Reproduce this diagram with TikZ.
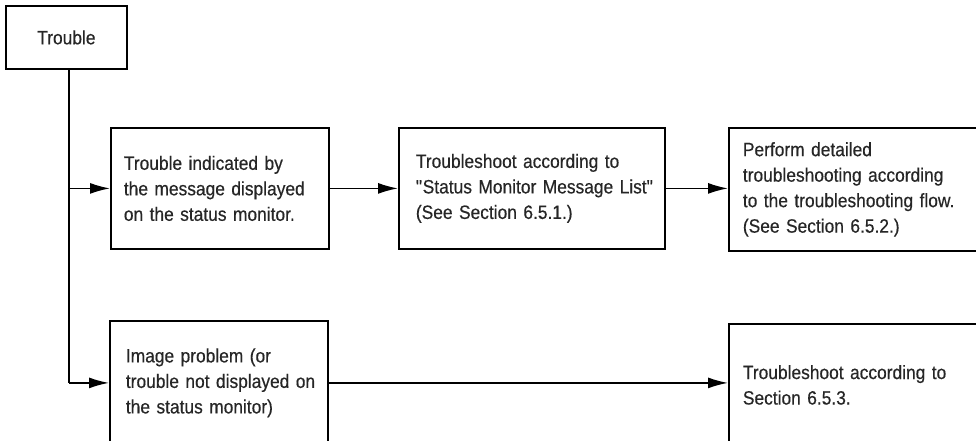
\documentclass[tikz,border=0pt]{standalone}
\usepackage{fontspec}
\setmainfont{Liberation Sans}
\newfontfamily\narrowfont[FakeStretch=0.9,FakeBold=0.4]{Liberation Sans}
\usetikzlibrary{arrows.meta}
\begin{document}
\begin{tikzpicture}[x=1pt,y=-1pt,
  box/.style={draw=black,line width=1.8pt,anchor=north west,align=left,
    font=\narrowfont\fontsize{19.3}{25.5}\selectfont,inner ysep=0pt,text=black!85},
  conn/.style={line width=1.6pt,-{Latex[length=20pt,width=11pt]}},
  trunk/.style={line width=1.6pt}]
\clip (0,0) rectangle (976,440);
\fill[white] (0,0) rectangle (976,440);
\node[box,align=center,minimum width=121pt,minimum height=63pt,inner xsep=0pt] (trouble) at (5,5) {Trouble};
\node[box,inner xsep=13pt,text width=192pt,minimum height=121pt] (b1) at (110,127)
  {\mbox{Trouble indicated by}\\\mbox{the message displayed}\\\mbox{on the status monitor.}};
\node[box,inner xsep=17pt,text width=232pt,minimum height=121pt] (b2) at (398,127)
  {\mbox{Troubleshoot according to}\\\mbox{\textquotedbl Status Monitor Message List\textquotedbl}\\\mbox{(See Section 6.5.1.)}};
\node[box,inner xsep=14pt,text width=242pt,minimum height=123pt] (b3) at (728,127)
  {\mbox{Perform detailed}\\\mbox{troubleshooting according}\\\mbox{to the troubleshooting flow.}\\\mbox{(See Section 6.5.2.)}};
\node[box,inner xsep=16pt,text width=186pt,minimum height=124pt] (b4) at (109,320)
  {\mbox{Image problem (or}\\\mbox{trouble not displayed on}\\\mbox{the status monitor)}};
\node[box,inner xsep=14pt,text width=242pt,minimum height=122pt] (b5) at (728,323)
  {\mbox{Troubleshoot according to}\\\mbox{Section 6.5.3.}};
\draw[trunk] ([xshift=2.5pt]trouble.south) -- ([xshift=2.5pt]trouble.south |- b4.west);
\draw[conn] ([xshift=2.5pt]trouble.south |- b1.west) -- (b1.west);
\draw[conn] ([xshift=2.5pt]trouble.south |- b4.west) -- (b4.west);
\draw[conn] (b1.east) -- (b2.west);
\draw[conn] (b2.east) -- (b2.east -| b3.west);
\draw[conn] (b4.east) -- (b4.east -| b5.west);
\end{tikzpicture}
\end{document}
